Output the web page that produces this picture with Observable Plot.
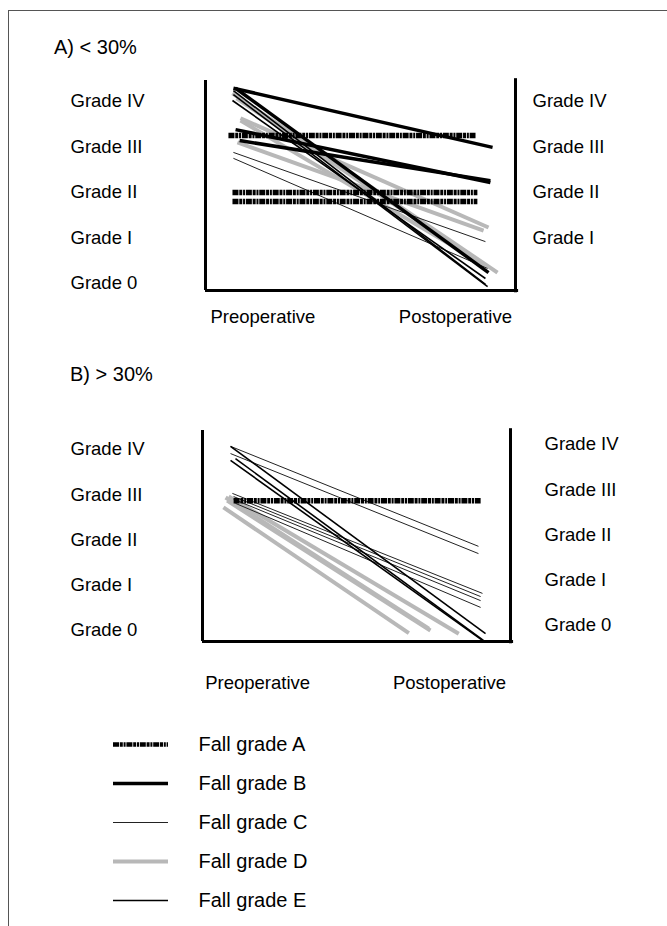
<!DOCTYPE html>
<html><head><meta charset="utf-8">
<script src="https://cdn.jsdelivr.net/npm/d3@7"></script>
<script src="https://cdn.jsdelivr.net/npm/@observablehq/plot@0.6"></script>
<style>
body{margin:0;background:#fff;}
#fig{position:relative;width:667px;height:926px;overflow:hidden;font-family:"Liberation Sans",Arial,sans-serif;color:#000;background:#fff;}
#border{position:absolute;left:8px;top:10px;width:700px;height:940px;border-top:1.5px solid #555;border-left:1.5px solid #555;}
.title{position:absolute;font-size:20px;line-height:24px;white-space:nowrap;}
.panel{position:absolute;left:0;}
</style></head><body>
<div id="fig"><div id="border"></div>
<div class="title" style="left:54px;top:35px">A) &lt; 30%</div>
<div class="panel" id="pA" style="top:60px"></div>
<div class="title" style="left:70px;top:362px">B) &gt; 30%</div>
<div class="panel" id="pB" style="top:410px"></div>
<div class="panel" id="leg" style="top:720px"></div>
</div>
<script>
// ---- labels ----
const gradeLabels = ["Grade 0", "Grade I", "Grade II", "Grade III", "Grade IV"];
const timeLabels = ["Preoperative", "Postoperative"];
const fallGrades = ["A", "B", "C", "D", "E"];
const legendLabels = ["Fall grade A", "Fall grade B", "Fall grade C", "Fall grade D", "Fall grade E"];

// ---- Panel A (< 30%) : one entry per patient line ----
const aCat       = ["A",   "A",   "A",   "B",   "B",   "B",   "B",   "D",   "D",   "D",   "D",   "D",   "E",   "E",   "E",   "C",   "C"];
const aPreX      = [0.074, 0.087, 0.087, 0.090, 0.097, 0.110, 0.097, 0.087, 0.113, 0.103, 0.113, 0.100, 0.087, 0.090, 0.090, 0.090, 0.090];
const aPreGrade  = [3.25,  2.00,  1.80,  4.29,  3.38,  3.14,  4.29,  4.18,  3.63,  3.10,  3.58,  4.07,  4.02,  4.24,  4.15,  2.88,  2.75];
const aPostX     = [0.871, 0.877, 0.877, 0.926, 0.919, 0.919, 0.913, 0.942, 0.913, 0.897, 0.903, 0.887, 0.903, 0.903, 0.910, 0.903, 0.910];
const aPostGrade = [3.25,  2.00,  1.80,  2.99,  2.22,  2.26,  0.24,  0.24,  1.23,  1.16,  0.40,  0.46,  0.11, -0.02, -0.07,  0.92,  0.33];

// ---- Panel B (> 30%) ----
const bCat       = ["A",   "C",   "C",   "E",   "E",   "E",   "C",   "C",   "C",   "C",   "D",   "D",   "D",   "D"];
const bPreX      = [0.101, 0.091, 0.091, 0.091, 0.091, 0.107, 0.097, 0.101, 0.101, 0.107, 0.068, 0.080, 0.085, 0.075];
const bPreGrade  = [2.87,  4.07,  3.91,  4.07,  3.76,  3.80,  3.03,  2.96,  2.90,  2.81,  2.72,  2.87,  2.96,  2.94];
const bPostX     = [0.903, 0.896, 0.896, 0.919, 0.909, 0.912, 0.909, 0.903, 0.903, 0.903, 0.670, 0.740, 0.832, 0.735];
const bPostGrade = [2.87,  1.86,  1.70, -0.07, -0.22, -0.22,  0.82,  0.75,  0.66,  0.51, -0.06,  0.00, -0.07,  0.04];

const lineStyle = {
  A: {stroke: "#000", strokeWidth: 5.5, strokeDasharray: "6 0.8 3 0.8 2 0.8"},
  B: {stroke: "#000", strokeWidth: 3.5},
  C: {stroke: "#222", strokeWidth: 1},
  D: {stroke: "#b8b8b8", strokeWidth: 4},
  E: {stroke: "#000", strokeWidth: 1.6}
};
const drawOrder = ["D", "C", "E", "B", "A"];
const fontFamily = "'Liberation Sans', Arial, Helvetica, sans-serif";

function panel(o) {
  const rows = o.cat.map((c, i) => ({cat: c, x1: o.preX[i], y1: o.preG[i], x2: o.postX[i], y2: o.postG[i]}));
  const [y0, y1] = o.yDomain;
  return Plot.plot({
    width: 667, height: 290,
    marginTop: 20, marginBottom: o.marginBottom, marginLeft: o.marginLeft, marginRight: o.marginRight,
    x: {domain: [0, 1]},
    y: {domain: o.yDomain},
    style: {fontSize: "18.5px", fontFamily, background: "transparent", overflow: "visible", color: "#000"},
    marks: [
      ...drawOrder.map(k => Plot.link(rows.filter(r => r.cat === k), {x1: "x1", y1: "y1", x2: "x2", y2: "y2", ...lineStyle[k]})),
      Plot.ruleX([0], {y1: y0, y2: y1, stroke: "#000", strokeWidth: 3}),
      Plot.ruleX([1], {y1: y0 - 0.05, y2: y1 + 0.04, stroke: "#000", strokeWidth: 3}),
      Plot.ruleY([y0], {x1: 0, x2: 1.01, stroke: "#000", strokeWidth: 3}),
      Plot.axisY({anchor: "left", ticks: [0, 1, 2, 3, 4], tickFormat: d => gradeLabels[d], tickSize: 0, tickPadding: o.marginLeft - 70, textAnchor: "start", label: null}),
      Plot.axisY({anchor: "right", ticks: o.rightTicks, tickFormat: d => gradeLabels[d], tickSize: 0, tickPadding: o.rightPad, dy: o.rightDy, label: null}),
      Plot.axisX({anchor: "bottom", ticks: o.timeTicks, tickFormat: d => timeLabels[o.timeTicks.indexOf(d)], tickSize: 0, tickPadding: o.xPad, label: null})
    ]
  });
}

document.getElementById("pA").append(panel({
  cat: aCat, preX: aPreX, preG: aPreGrade, postX: aPostX, postG: aPostGrade,
  yDomain: [-0.154, 4.46], marginBottom: 60, marginLeft: 205, marginRight: 152,
  rightTicks: [1, 2, 3, 4], rightPad: 17, rightDy: 0,
  timeTicks: [0.185, 0.806], xPad: 19.5
}));

document.getElementById("pB").append(panel({
  cat: bCat, preX: bPreX, preG: bPreGrade, postX: bPostX, postG: bPostGrade,
  yDomain: [-0.243, 4.42], marginBottom: 59, marginLeft: 202, marginRight: 157,
  rightTicks: [0, 1, 2, 3, 4], rightPad: 34, rightDy: -5,
  timeTicks: [0.179, 0.802], xPad: 34.5
}));

document.getElementById("leg").append(Plot.plot({
  width: 667, height: 200, margin: 0,
  x: {domain: [0, 1], range: [113, 168], axis: null},
  y: {type: "point", domain: fallGrades, range: [23, 180], padding: 0, axis: null},
  style: {fontSize: "20px", fontFamily, background: "transparent", overflow: "visible"},
  marks: [
    ...fallGrades.map(k => Plot.ruleY([k], {x1: 0, x2: 1, ...lineStyle[k], strokeWidth: k === "A" ? 4.5 : lineStyle[k].strokeWidth})),
    Plot.text(fallGrades, {x: 1, y: d => d, text: d => legendLabels[fallGrades.indexOf(d)], textAnchor: "start", dx: 30, fill: "#000"})
  ]
}));
</script>
</body></html>
